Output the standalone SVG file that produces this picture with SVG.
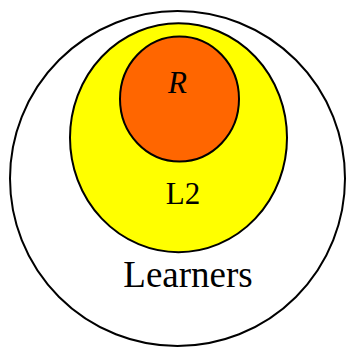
<svg xmlns="http://www.w3.org/2000/svg" width="346" height="347" viewBox="0 0 346 347">
<style>
.shape{stroke:#000;stroke-width:2}
.lbl{font-family:"Liberation Serif","Times New Roman",serif;fill:#000;text-anchor:middle}
</style>
<rect width="346" height="347" fill="#fff"/>
<g id="learners">
<circle class="shape" cx="177.5" cy="178.5" r="167.5" fill="#fff"/>
<text class="lbl" x="188" y="286.5" font-size="37">Learners</text>
</g>
<g id="l2">
<ellipse class="shape" cx="178.5" cy="137.7" rx="108.5" ry="114.5" fill="#ffff00"/>
<text class="lbl" x="183" y="204" font-size="31">L2</text>
</g>
<g id="r">
<ellipse class="shape" cx="179.5" cy="99" rx="59.5" ry="62.5" fill="#ff6600"/>
<text class="lbl" x="177.5" y="93" font-size="31" font-style="italic">R</text>
</g>
<g id="connectors"></g>
</svg>
